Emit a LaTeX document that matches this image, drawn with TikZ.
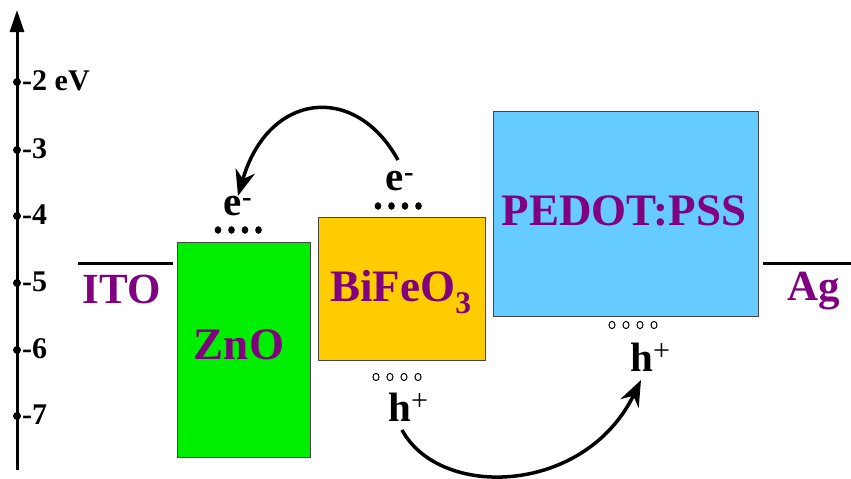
\documentclass[tikz,border=0pt]{standalone}
\usepackage{fontspec}
\setmainfont{Liberation Serif}
\usetikzlibrary{arrows.meta}
\definecolor{lab}{RGB}{128,0,128}
\definecolor{zno}{RGB}{0,238,0}
\definecolor{bfo}{RGB}{255,204,0}
\definecolor{ped}{RGB}{102,204,255}
\definecolor{edge}{RGB}{70,70,70}
\newcommand{\holeplus}{{\mdseries\fontsize{30}{30}\selectfont\raisebox{11pt}{+}}}
\begin{document}
\begin{tikzpicture}[x=1pt,y=-1pt,
  box/.style={draw=edge,line width=1.3pt,anchor=north west,inner sep=0pt},
  mat/.style={text=lab,font=\fontsize{45}{45}\selectfont\bfseries,inner sep=0pt},
  elec/.style={text=lab,font=\fontsize{43}{43}\selectfont\bfseries,inner sep=0pt},
  ticklab/.style={font=\fontsize{30}{30}\selectfont\bfseries,anchor=west,inner sep=0pt},
  carrier/.style={font=\fontsize{41}{41}\selectfont\bfseries,inner sep=0pt},
  level/.style={line width=3pt},
  flow/.style={line width=3.5pt,-{Stealth[length=26pt,width=20pt]}}]
\useasboundingbox (0,0) rectangle (851,479);
\fill[white] (0,0) rectangle (851,479);
% axis
\coordinate (axb) at (17,470);
\coordinate (axt) at (17,10);
\draw[line width=3pt,-{Triangle[length=22pt,width=14pt]}] (axb) -- (axt);
\foreach \y in {82,150,216,283,350,416}{
  \fill (17,\y) circle (4pt);
}
\node[ticklab] (t2) at (22,81) {-2 eV};
\node[ticklab] (t3) at (22,149) {-3};
\node[ticklab] (t4) at (22,215) {-4};
\node[ticklab] (t5) at (22,282) {-5};
\node[ticklab] (t6) at (22,349) {-6};
\node[ticklab] (t7) at (22,415) {-7};
% electrodes
\coordinate (itoa) at (78,263);
\coordinate (itob) at (173,263);
\draw[level] (itoa) -- (itob);
\coordinate (aga) at (763,263);
\coordinate (agb) at (851,263);
\draw[level] (aga) -- (agb);
\node[elec] (ito) at (122,289) {ITO};
\node[elec] (ag) at (814,291) {Ag};
% boxes
\node[box,fill=zno,minimum width=133pt,minimum height=215pt] (znobox) at (177,242) {};
\node[box,fill=bfo,minimum width=167pt,minimum height=143pt] (bfobox) at (318,217) {};
\node[box,fill=ped,minimum width=265pt,minimum height=205pt] (pedbox) at (493,111) {};
\node[mat] (znolab) at (239,345) {ZnO};
\node[mat] (bfolab) at (401,292) {BiFeO\textsubscript{3}};
\node[mat] (pedlab) at (624,211) {PEDOT:PSS};
% carriers
\node[carrier] (e1) at (238,206) {e\textsuperscript{-}};
\node[carrier] (e2) at (400,181) {e\textsuperscript{-}};
\node[carrier,anchor=base west] (h1) at (388,421) {h\holeplus};
\node[carrier,anchor=base west] (h2) at (630,371) {h\holeplus};
\foreach \i in {0,1,2,3}{
  \fill (218+13.5*\i,230) ellipse (3.3pt and 3.8pt);
  \fill (378+13.5*\i,206) ellipse (3.3pt and 3.8pt);
  \draw[line width=1pt] (376+14*\i,377) ellipse (3pt and 3.6pt);
  \draw[line width=1pt] (612+14*\i,325) ellipse (3pt and 3.6pt);
}
% transfer arrows
\coordinate (s1) at (398,160);
\coordinate (s2) at (402,430);
\coordinate (tip2) at (641,380);
\draw[flow] (s1) .. controls (355,82) and (268,92) .. (e1.north);
\draw[flow] (s2) .. controls (440,500) and (585,495) .. (tip2);
\end{tikzpicture}
\end{document}
